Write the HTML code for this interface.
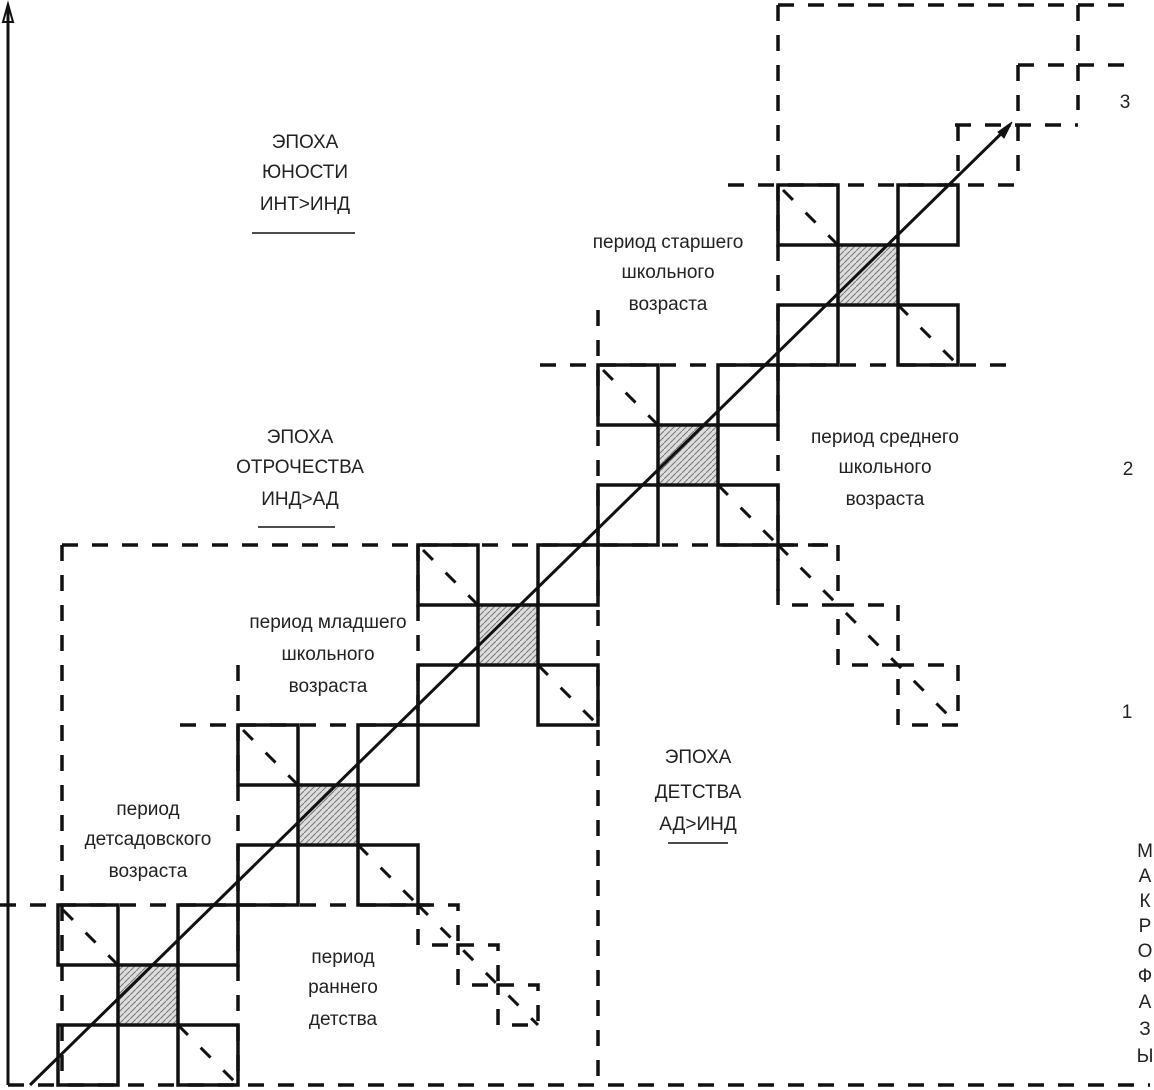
<!DOCTYPE html><html><head><meta charset="utf-8"><style>body{margin:0;background:#fff}svg{display:block}text{font-family:"Liberation Sans",sans-serif;font-size:19px;fill:#222;text-anchor:middle}</style></head><body>
<svg width="1154" height="1090" viewBox="0 0 1154 1090">
<defs><pattern id="h" width="6" height="6" patternUnits="userSpaceOnUse"><rect width="6" height="6" fill="#ddd"/><path d="M0,6L6,0" stroke="#777" stroke-width="1"/></pattern>
<g id="b" stroke="#111" stroke-width="3.5" fill="none"><rect x="0" y="0" width="60" height="60"/><rect x="120" y="0" width="60" height="60"/><rect x="60" y="60" width="60" height="60" fill="url(#h)"/><rect x="0" y="120" width="60" height="60"/><rect x="120" y="120" width="60" height="60"/>
<path d="M5,5L60,60M120,120L178,178" stroke-dasharray="14,18" stroke-width="3"/></g></defs>
<g fill="none" stroke="#111" stroke-width="3.5" stroke-dasharray="16,14">
<path d="M8,1085H1150"/>
<path d="M62,545H840M62,545V1085"/>
<path d="M598,310V1085"/>
<path d="M540,365H1010"/>
<path d="M778,5V600"/>
<path d="M728,185H1020"/>
<path d="M778,5H1130M1078,5V110M1018,65H1135M1018,65V185M955,125H1078M958,125V185"/>
<path d="M180,725H418M238,665V1085"/>
<path d="M0,905H430"/>
<path d="M418,545V725"/>
<rect x="778" y="545" width="60" height="60"/><rect x="838" y="605" width="60" height="60"/><rect x="898" y="665" width="60" height="60"/>
<rect x="418" y="905" width="40" height="40"/><rect x="458" y="945" width="40" height="40"/><rect x="498" y="985" width="40" height="40"/>
</g>
<path d="M8,1085V8" stroke="#111" stroke-width="3"/>
<path d="M3,22L8,4L13,22Z" fill="none" stroke="#111" stroke-width="2"/>
<use href="#b" x="58" y="905"/><use href="#b" x="238" y="725"/><use href="#b" x="418" y="545"/><use href="#b" x="598" y="365"/><use href="#b" x="778" y="185"/>
<g stroke="#111" fill="none">
<path d="M778,545L958,725M418,905L538,1025" stroke-dasharray="14,18" stroke-width="3"/>
<path d="M30,1085L1010,125" stroke-width="3"/>
<path d="M998,132L1012,122L1004,138Z" fill="#111"/>
</g>
<text x="305" y="148">ЭПОХА</text><text x="305" y="178">ЮНОСТИ</text><text x="305" y="210">ИНТ&gt;ИНД</text>
<path d="M252,233H355M258,527H335M668,843H728" stroke="#111" stroke-width="1.5"/>
<text x="300" y="443">ЭПОХА</text><text x="300" y="473">ОТРОЧЕСТВА</text><text x="300" y="505">ИНД&gt;АД</text>
<text x="698" y="763">ЭПОХА</text><text x="698" y="798">ДЕТСТВА</text><text x="698" y="830">АД&gt;ИНД</text>
<text x="668" y="248">период старшего</text><text x="668" y="278">школьного</text><text x="668" y="310">возраста</text>
<text x="885" y="443">период среднего</text><text x="885" y="473">школьного</text><text x="885" y="505">возраста</text>
<text x="328" y="628">период младшего</text><text x="328" y="660">школьного</text><text x="328" y="692">возраста</text>
<text x="148" y="815">период</text><text x="148" y="845">детсадовского</text><text x="148" y="877">возраста</text>
<text x="343" y="963">период</text><text x="343" y="993">раннего</text><text x="343" y="1025">детства</text>
<text x="1125" y="108">3</text><text x="1128" y="475">2</text><text x="1127" y="718">1</text>
<g style="font-size:16px"><text x="1145" y="857">М</text><text x="1145" y="882">А</text><text x="1145" y="907">К</text><text x="1145" y="932">Р</text><text x="1145" y="957">О</text><text x="1145" y="982">Ф</text><text x="1145" y="1008">А</text><text x="1145" y="1035">З</text><text x="1145" y="1062">Ы</text></g>
</svg></body></html>
